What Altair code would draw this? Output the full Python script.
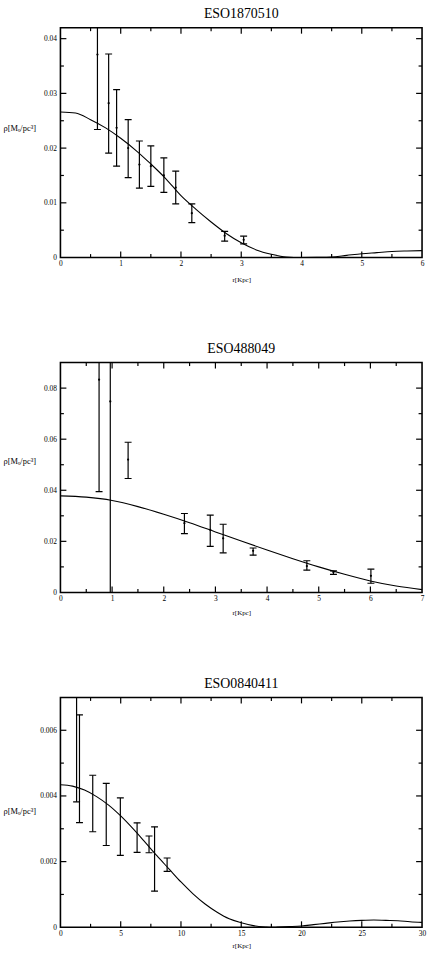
import altair as alt
import pandas as pd

FONT = "Liberation Serif"

# ---------------- Panel 1: ESO1870510 ----------------
p1_title = "ESO1870510"
p1_r = [0.614, 0.80, 0.932, 1.124, 1.31, 1.50, 1.716, 1.913, 2.18, 2.725, 3.04]
p1_rho = [0.0371, 0.0282, 0.0237, 0.0200, 0.0170, 0.0167, 0.0150, 0.0128, 0.0081, 0.0040, 0.00325]
p1_lo = [0.0234, 0.0191, 0.0167, 0.0146, 0.0127, 0.0130, 0.0119, 0.0098, 0.0064, 0.0030, 0.0025]
p1_hi = [0.0508, 0.0372, 0.0307, 0.0252, 0.0213, 0.0204, 0.0182, 0.0158, 0.0098, 0.0048, 0.0039]
p1_fit_r = [0, 0.25, 0.5, 0.75, 1.0, 1.25, 1.5, 1.75, 2.0, 2.25, 2.5, 2.75, 3.0, 3.25,
            3.5, 3.75, 4.0, 4.25, 4.5, 4.75, 5.0, 5.25, 5.5, 5.75, 6.0]
p1_fit_rho = [0.0266, 0.0264, 0.0252, 0.0237, 0.0218, 0.0196, 0.0171, 0.0144, 0.0113,
              0.0088, 0.0065, 0.0044, 0.0027, 0.0014, 0.0006, 0.0001, 0.0, 0.00003,
              0.0001, 0.0004, 0.0007, 0.0009, 0.0011, 0.0012, 0.00127]
p1_xmaj = [0, 1, 2, 3, 4, 5, 6]
p1_xmin = [0.5, 1.5, 2.5, 3.5, 4.5, 5.5]
p1_ymaj = [0, 0.01, 0.02, 0.03, 0.04]
p1_ymin = [0.005, 0.015, 0.025, 0.035]

# ---------------- Panel 2: ESO488049 ----------------
p2_title = "ESO488049"
p2_r = [0.748, 0.965, 1.31, 2.40, 2.90, 3.15, 3.73, 4.77, 5.285, 6.01]
p2_rho = [0.0833, 0.0748, 0.0520, 0.0271, 0.0245, 0.0212, 0.0163, 0.0103, 0.0079, 0.0065]
p2_lo = [0.0395, -0.0052, 0.0446, 0.0230, 0.0180, 0.0155, 0.0146, 0.0087, 0.0071, 0.0036]
p2_hi = [0.1271, 0.1548, 0.0588, 0.0309, 0.0303, 0.0267, 0.0174, 0.0124, 0.0084, 0.0091]
p2_fit_r = [0, 0.5, 1.0, 1.5, 2.0, 2.5, 3.0, 3.5, 4.0, 4.5, 5.0, 5.5, 6.0, 6.5, 7.0]
p2_fit_rho = [0.0378, 0.0373, 0.0360, 0.0336, 0.0306, 0.0273, 0.0237, 0.0201, 0.0166,
              0.0132, 0.0100, 0.0071, 0.0045, 0.0025, 0.0011]
p2_xmaj = [0, 1, 2, 3, 4, 5, 6, 7]
p2_xmin = [0.5, 1.5, 2.5, 3.5, 4.5, 5.5, 6.5]
p2_ymaj = [0, 0.02, 0.04, 0.06, 0.08]
p2_ymin = [0.01, 0.03, 0.05, 0.07]

# ---------------- Panel 3: ESO0840411 ----------------
p3_title = "ESO0840411"
p3_r = [1.34, 1.58, 2.68, 3.80, 4.97, 6.36, 7.35, 7.81, 8.85]
p3_lo = [0.00382, 0.00319, 0.00291, 0.00249, 0.00219, 0.00228, 0.00227, 0.00110, 0.00170]
p3_hi = [0.00950, 0.00647, 0.00463, 0.00438, 0.00394, 0.00318, 0.00278, 0.00306, 0.00211]
p3_fit_r = [0, 1, 2, 3, 4, 5, 6, 7, 8, 9, 10, 11, 12, 13, 14, 15, 16, 17, 17.5, 18, 19,
            20, 21, 22, 23, 24, 25, 26, 27, 28, 29, 30]
p3_fit_rho = [0.00434, 0.00430, 0.00418, 0.00398, 0.00372, 0.00339, 0.00301, 0.00260,
              0.00218, 0.00178, 0.00138, 0.00102, 0.00071, 0.00046, 0.00026, 0.00014,
              0.00005, 0.00001, 0.0, 0.000005, 0.00002, 0.00004, 0.00008, 0.00012,
              0.00016, 0.00019, 0.00021, 0.00022, 0.00021, 0.00020, 0.00017, 0.00015]
p3_xmaj = [0, 5, 10, 15, 20, 25, 30]
p3_xmin = [2.5, 7.5, 12.5, 17.5, 22.5, 27.5]
p3_ymaj = [0, 0.002, 0.004, 0.006]
p3_ymin = [0.001, 0.003, 0.005]

YTITLE = "ρ[Mₒ/pc³]"
XTITLE = "r[Kpc]"
W, H = 365, 232
MAJ, MIN = 6, 3.5


def build(title, pr, plo, phi, prho, fr, frho, xdom, ydom, xmaj, xmin, ymaj, ymin,
          ytitle_y, xtitle_pad):
    pts = pd.DataFrame({"r": pr, "lo": plo, "hi": phi})
    fit = pd.DataFrame({"r": fr, "rho": frho})
    xs = alt.Scale(domain=xdom, nice=False, zero=False)
    ys = alt.Scale(domain=ydom, nice=False, zero=False)

    xaxis = alt.Axis(values=xmaj, ticks=False, domain=False, grid=False, format="~g",
                     labelFont=FONT, labelFontSize=7.5, labelColor="black",
                     labelPadding=2, labelFlush=False, labelOverlap=False,
                     title=XTITLE, titleFont=FONT, titleFontSize=7,
                     titleFontWeight="normal", titleColor="black",
                     titlePadding=xtitle_pad)
    yaxis = alt.Axis(values=ymaj, ticks=False, domain=False, grid=False, format="~g",
                     labelFont=FONT, labelFontSize=7.5, labelColor="black",
                     labelPadding=4, labelFlush=False, labelOverlap=False,
                     title=YTITLE, titleFont=FONT, titleFontSize=8.5,
                     titleFontWeight="normal", titleColor="black", titleAngle=0,
                     titleAlign="left", titleBaseline="middle", titleX=-58,
                     titleY=ytitle_y)

    def X(field):
        return alt.X(field, type="quantitative", scale=xs, axis=xaxis, title=XTITLE)

    def Y(field):
        return alt.Y(field, type="quantitative", scale=ys, axis=yaxis, title=YTITLE)

    curve = alt.Chart(fit).mark_line(
        color="black", strokeWidth=1.1, interpolate="monotone", clip=True
    ).encode(x=X("r"), y=Y("rho"))

    # inward tick marks at the axis tick values, on all four sides
    def xticks(vals, length):
        d = pd.DataFrame({"v": vals})
        base = alt.Chart(d).mark_rule(color="black", strokeWidth=1.2)
        bottom = base.encode(x=X("v"), y=alt.value(H), y2=alt.value(H - length))
        top = base.encode(x=X("v"), y=alt.value(0), y2=alt.value(length))
        return [bottom, top]

    def yticks(vals, length):
        d = pd.DataFrame({"v": vals})
        base = alt.Chart(d).mark_rule(color="black", strokeWidth=1.2)
        left = base.encode(y=Y("v"), x=alt.value(0), x2=alt.value(length))
        right = base.encode(y=Y("v"), x=alt.value(W), x2=alt.value(W - length))
        return [left, right]

    bars = alt.Chart(pts).mark_rule(color="black", strokeWidth=1.2, clip=True).encode(
        x=X("r"), y=Y("lo"), y2="hi:Q"
    )
    cap_lo = alt.Chart(pts).mark_tick(
        orient="horizontal", size=7, thickness=1.2, color="black", clip=True, opacity=1
    ).encode(x=X("r"), y=Y("lo"))
    cap_hi = alt.Chart(pts).mark_tick(
        orient="horizontal", size=7, thickness=1.2, color="black", clip=True, opacity=1
    ).encode(x=X("r"), y=Y("hi"))

    layers = [curve] + xticks(xmaj[1:-1], MAJ) + xticks(xmin, MIN) \
        + yticks(ymaj[1:], MAJ) + yticks(ymin, MIN) + [bars, cap_lo, cap_hi]
    if prho is not None:
        cdf = pd.DataFrame({"r": pr, "rho": prho})
        dots = alt.Chart(cdf).mark_point(
            shape="circle", filled=True, size=5, color="black", opacity=1, clip=True
        ).encode(x=X("r"), y=Y("rho"))
        layers.append(dots)

    return alt.layer(*layers).properties(
        width=W, height=H,
        title=alt.TitleParams(text=title, font=FONT, fontSize=14, fontWeight="normal",
                              color="black", anchor="middle", offset=6, dy=14,
                              baseline="bottom"),
    )


c1 = build(p1_title, p1_r, p1_lo, p1_hi, p1_rho, p1_fit_r, p1_fit_rho, [0, 6], [0, 0.042],
           p1_xmaj, p1_xmin, p1_ymaj, p1_ymin, 101, 9)
c2 = build(p2_title, p2_r, p2_lo, p2_hi, p2_rho, p2_fit_r, p2_fit_rho, [0, 7], [0, 0.09],
           p2_xmaj, p2_xmin, p2_ymaj, p2_ymin, 99, 7)
c3 = build(p3_title, p3_r, p3_lo, p3_hi, None, p3_fit_r, p3_fit_rho, [0, 30], [0, 0.007],
           p3_xmaj, p3_xmin, p3_ymaj, p3_ymin, 114, 5)

chart = alt.vconcat(c1, c2, c3, spacing=106, bounds="flush").properties(
    padding={"left": 2, "top": 1.5, "right": 0, "bottom": 0}, background="white"
).configure_view(stroke="black", strokeWidth=1.6)

chart.save("out.html", embed_options={"renderer": "svg", "actions": False})
